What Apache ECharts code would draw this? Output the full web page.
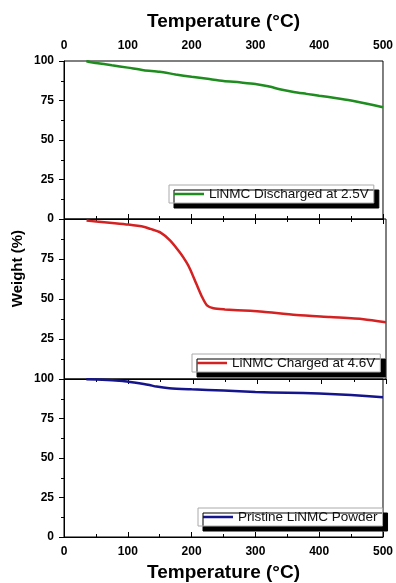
<!DOCTYPE html>
<html>
<head>
<meta charset="utf-8">
<script src="https://cdn.jsdelivr.net/npm/echarts@6/dist/echarts.min.js"></script>
<style>
  html, body { margin: 0; padding: 0; background: #fff; }
  #chart { width: 396px; height: 583px; }
</style>
</head>
<body>
<div id="chart"></div>
<script>
// TGA curves
const dischargedTemp = [35, 40, 50, 75, 100, 125, 150, 175, 200, 225, 250, 275, 300, 320, 340, 360, 380, 400, 425, 450, 475, 500];
const dischargedWeight = [100, 99.4, 98.8, 97.3, 95.8, 94.2, 93.2, 91.5, 90, 88.7, 87.4, 86.5, 85.5, 84, 82, 80.4, 79.2, 78, 76.6, 75, 73, 70.7];

const chargedTemp = [35, 50, 75, 100, 125, 134, 150, 165, 180, 190, 196, 206, 214, 222, 232, 250, 289, 309, 361, 413, 465, 500];
const chargedWeight = [99, 98.4, 97.5, 96.5, 95, 93.8, 91.5, 86.5, 79, 73, 68.5, 59, 51.6, 46, 44.2, 43.5, 42.6, 42, 40, 38.7, 37.4, 35.5];

const pristineTemp = [35, 60, 92, 110, 125, 134, 145, 165, 200, 250, 300, 350, 400, 450, 500];
const pristineWeight = [99.8, 99.6, 98.7, 97.8, 96.9, 96.2, 95.2, 94.2, 93.5, 92.7, 91.8, 91.3, 90.8, 89.8, 88.5];

const seriesNames = ['LiNMC Discharged at 2.5V', 'LiNMC Charged at 4.6V', 'Pristine LiNMC Powder'];
const seriesColors = ['#1f8c1f', '#d42121', '#14148c'];
const xTitle = 'Temperature (°C)';
const yTitle = 'Weight (%)';

const font = 'Liberation Sans, Arial, sans-serif';

const pairs = (xs, ys) => xs.map((x, i) => [x, ys[i]]);

const chart = echarts.init(document.getElementById('chart'));

const gridBase = { left: 64, right: 10, show: true, borderColor: '#000', borderWidth: 1, backgroundColor: 'transparent' };

const xBase = (gridIndex, position, showLabels, showTicks) => ({
  type: 'value', gridIndex, position, min: 0, max: 500, interval: 100,
  axisLine: { show: true, lineStyle: { color: '#000', width: 1 } },
  axisTick: { show: showTicks, inside: true, length: 5, lineStyle: { color: '#000' } },
  minorTick: { show: showTicks, splitNumber: 2, length: 3, lineStyle: { color: '#000' } },
  axisLabel: { show: showLabels, color: '#000', fontWeight: 'bold', fontSize: 12, fontFamily: font, margin: 9 },
  splitLine: { show: false }
});

const yBase = (gridIndex, showEnds) => ({
  type: 'value', gridIndex, min: 0, max: 100, interval: 25,
  axisLine: { show: true, lineStyle: { color: '#000', width: 1 } },
  axisTick: { show: true, length: 5, lineStyle: { color: '#000' } },
  minorTick: { show: true, splitNumber: 2, length: 3, lineStyle: { color: '#000' } },
  axisLabel: { color: '#000', fontWeight: 'bold', fontSize: 12, fontFamily: font, margin: 10,
    showMinLabel: showEnds, showMaxLabel: showEnds },
  splitLine: { show: false }
});

const legendBase = (name, left, top) => ({
  data: [name], left, top,
  orient: 'horizontal',
  icon: 'rect',
  backgroundColor: '#fff', borderColor: '#aaa', borderWidth: 1,
  shadowColor: '#000', shadowBlur: 0, shadowOffsetX: 5, shadowOffsetY: 5,
  padding: [2, 5, 2, 5],
  itemWidth: 30, itemHeight: 2.5, itemGap: 4,
  textStyle: { color: '#111', fontSize: 13.5, fontFamily: font }
});

const option = {
  animation: false,
  grid: [
    Object.assign({ top: 61, height: 158 }, gridBase),
    Object.assign({ top: 219, height: 160 }, gridBase),
    Object.assign({ top: 379, height: 159 }, gridBase)
  ],
  xAxis: [
    Object.assign(xBase(0, 'top', true, true), {
      name: xTitle, nameLocation: 'middle', nameGap: 30,
      nameTextStyle: { color: '#000', fontWeight: 'bold', fontSize: 19, fontFamily: font }
    }),
    xBase(1, 'top', false, true),
    Object.assign(xBase(2, 'bottom', true, true), {
      name: xTitle, nameLocation: 'middle', nameGap: 26,
      nameTextStyle: { color: '#000', fontWeight: 'bold', fontSize: 19, fontFamily: font }
    }),
    xBase(0, 'bottom', false, true)
  ],
  yAxis: [yBase(0, true), yBase(1, false), yBase(2, true)],
  legend: [
    legendBase(seriesNames[0], 169, 185),
    legendBase(seriesNames[1], 192, 354),
    legendBase(seriesNames[2], 198, 508)
  ],
  graphic: [{
    type: 'text', left: 10, top: 230, rotation: Math.PI / 2,
    style: { text: yTitle, fill: '#000', font: 'bold 15px ' + font }
  }],
  series: [
    { name: seriesNames[0], data: pairs(dischargedTemp, dischargedWeight), xAxisIndex: 0, yAxisIndex: 0 },
    { name: seriesNames[1], data: pairs(chargedTemp, chargedWeight), xAxisIndex: 1, yAxisIndex: 1 },
    { name: seriesNames[2], data: pairs(pristineTemp, pristineWeight), xAxisIndex: 2, yAxisIndex: 2 }
  ].map((s, i) => Object.assign({
    type: 'line', symbol: 'none', smooth: 0.25,
    color: seriesColors[i],
    lineStyle: { width: 2.5, color: seriesColors[i] }
  }, s))
};

chart.setOption(option);
</script>
</body>
</html>
